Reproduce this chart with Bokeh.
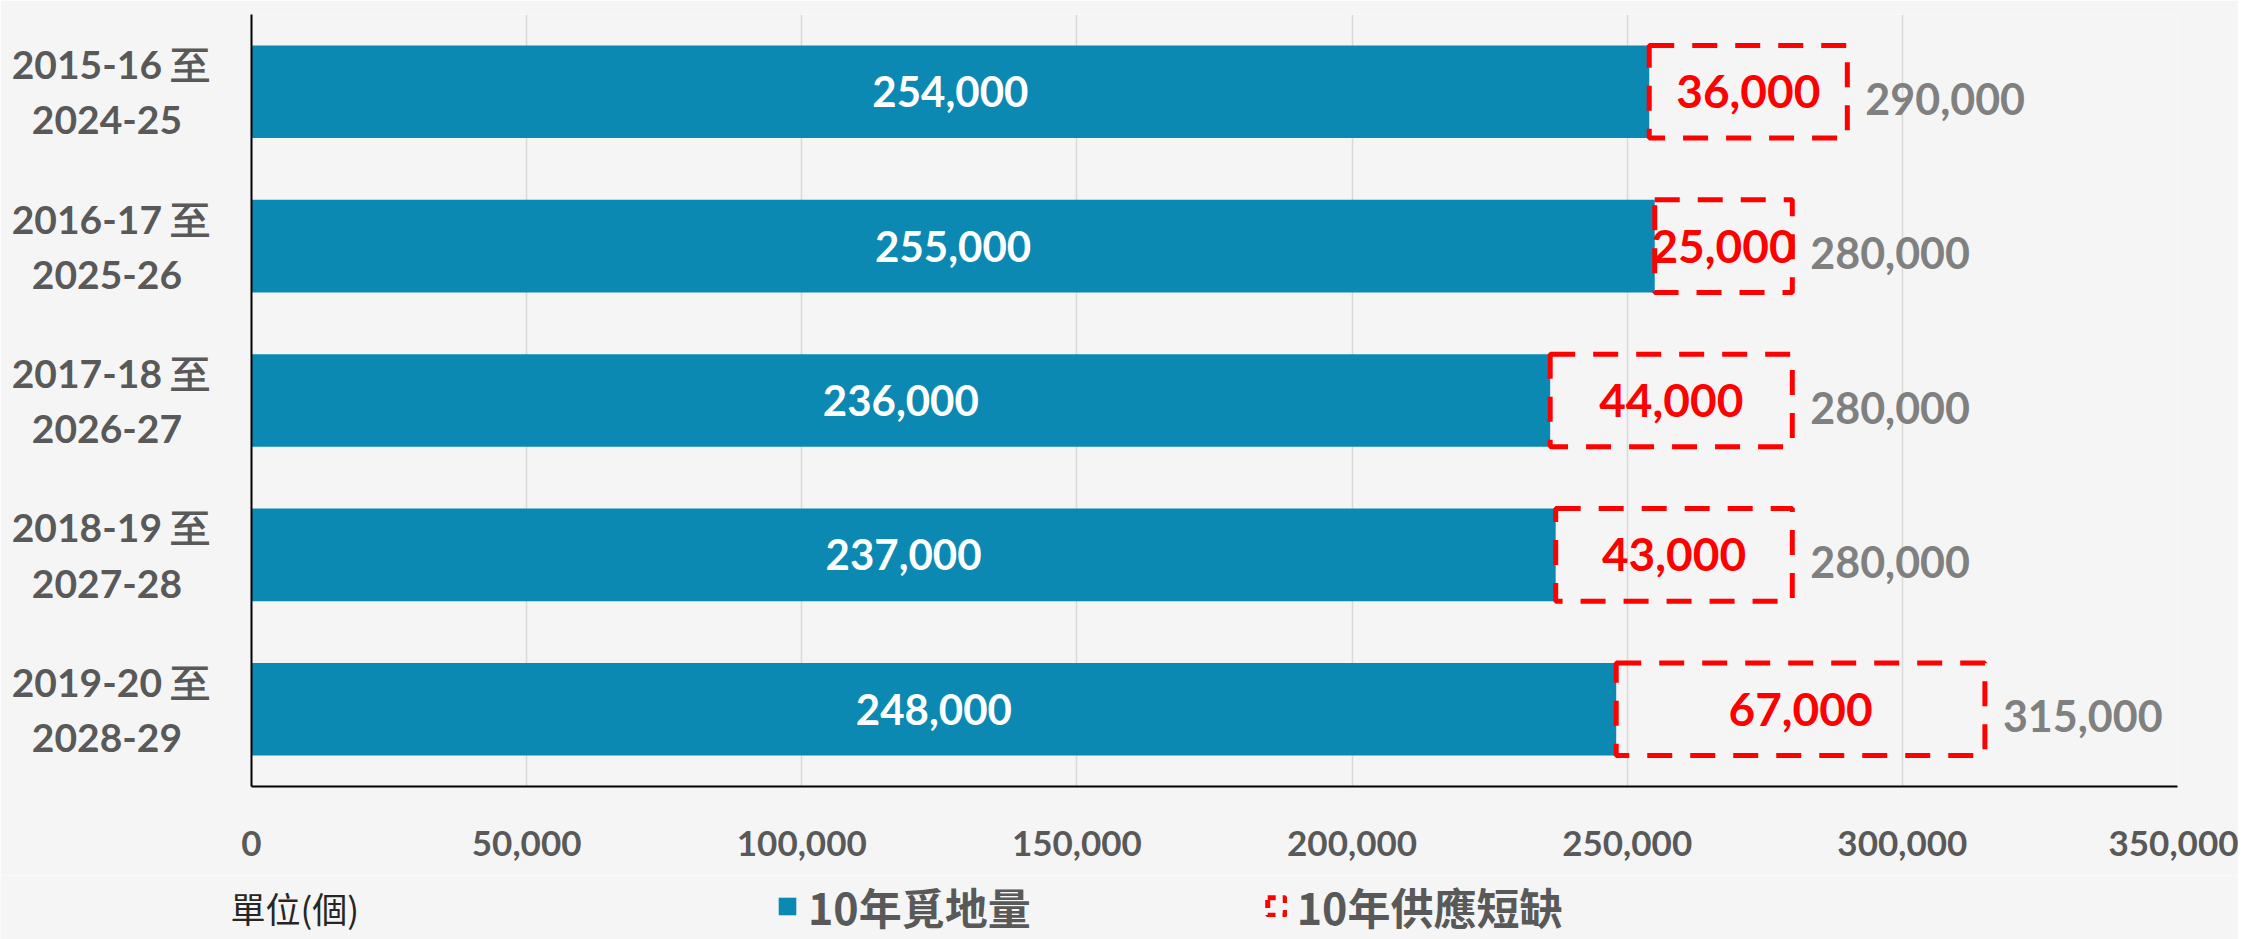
from bokeh.plotting import figure
from bokeh.layouts import column, row
from bokeh.models import (FactorRange, Range1d, ColumnDataSource, Legend, LegendItem,
                          Label, NumeralTickFormatter, FixedTicker)
from bokeh.core.properties import value
from bokeh.embed import file_html
from bokeh.resources import INLINE

# ---- data ----
period_start = ["2015-16", "2016-17", "2017-18", "2018-19", "2019-20"]
period_end = ["2024-25", "2025-26", "2026-27", "2027-28", "2028-29"]
land_supply = [254000, 255000, 236000, 237000, 248000]   # 10年覓地量
shortfall = [36000, 25000, 44000, 43000, 67000]           # 10年供應短缺
demand = [290000, 280000, 280000, 280000, 315000]         # total demand
x_ticks = [0, 50000, 100000, 150000, 200000, 250000, 300000, 350000]
legend_labels = ["10年覓地量", "10年供應短缺"]
unit_label = "單位(個)"

NB = "\u00a0"
periods = [f"{a} 至\n{b}{NB * 3}" for a, b in zip(period_start, period_end)]

src = ColumnDataSource(dict(
    period=periods,
    land=land_supply,
    short=shortfall,
    total=demand,
    land_mid=[v / 2 for v in land_supply],
    short_mid=[a + b / 2 for a, b in zip(land_supply, shortfall)],
    land_txt=[f"{v:,}" for v in land_supply],
    short_txt=[f"{v:,}" for v in shortfall],
    total_txt=[f"{v:,}" for v in demand],
))

BG = "#F5F5F5"
BLUE = "#0B89B2"
RED = "#FF0000"
DARK = "#595959"
DASH = "25 18"

p = figure(width=2238, height=875,
           y_range=FactorRange(factors=periods[::-1]),
           x_range=Range1d(0, 350000),
           output_backend="svg", toolbar_location=None,
           min_border_left=251, min_border_right=61,
           min_border_top=14, min_border_bottom=89)
p.background_fill_color = BG
p.border_fill_color = BG
p.outline_line_color = None

bars = p.hbar(y="period", left=0, right="land", height=0.6, source=src,
              fill_color=BLUE, line_color=None)
boxes = p.hbar(y="period", left="land", right="total", height=0.6, source=src,
               fill_color=None, line_color=RED, line_width=5, line_dash=DASH)

p.text(x="land_mid", y="period", text="land_txt", source=src,
       text_color="white", text_font=value("Lato"), text_font_style="bold",
       text_font_size="42px", text_align="center", text_baseline="middle")
p.text(x="short_mid", y="period", text="short_txt", source=src,
       text_color=RED, text_font=value("Lato"), text_font_style="bold",
       text_font_size="46px", text_align="center", text_baseline="middle")
p.text(x="total", y="period", text="total_txt", source=src, x_offset=18, y_offset=7,
       text_color="#808080", text_font=value("Lato"), text_font_style="bold",
       text_font_size="43px", text_align="left", text_baseline="middle")

# axes
p.xaxis.ticker = FixedTicker(ticks=x_ticks)
p.xaxis.formatter = NumeralTickFormatter(format="0,0")
for ax in (p.xaxis, p.yaxis):
    ax.major_label_text_font = "Lato"
    ax.major_label_text_font_style = "bold"
    ax.major_label_text_color = DARK
    ax.major_tick_line_color = None
    ax.minor_tick_line_color = None
    ax.axis_line_color = "black"
    ax.axis_line_width = 2
p.xaxis.major_label_text_font_size = "35px"
p.xaxis.major_label_standoff = 38
p.yaxis.major_label_text_font_size = "39px"
p.yaxis.major_label_standoff = 35

p.xgrid.grid_line_color = "#D9D9D9"
p.xgrid.grid_line_width = 1.5
p.ygrid.grid_line_color = None

# ---- legend row ----
p2 = figure(width=2238, height=64, x_range=Range1d(0, 1), y_range=Range1d(0, 1),
            output_backend="svg", toolbar_location=None,
            x_axis_location=None, y_axis_location=None,
            min_border=0, min_border_left=0, min_border_right=0,
            min_border_top=0, min_border_bottom=0)
p2.background_fill_color = BG
p2.border_fill_color = BG
p2.outline_line_color = None
p2.grid.visible = False

# hidden proxies that only supply the legend swatches
leg_bar = p2.hbar(y=0, left=0, right="land", height=1, source=src,
                  fill_color=BLUE, line_color=None, visible=False)
leg_box = p2.hbar(y=0, left="land", right="total", height=1, source=src,
                  fill_color=None, line_color=RED, line_width=5, line_dash="8 7",
                  visible=False)

legend = Legend(items=[LegendItem(label=legend_labels[0], renderers=[leg_bar]),
                       LegendItem(label=legend_labels[1], renderers=[leg_box])],
                orientation="horizontal", location=(776, 2),
                label_text_font="Noto Sans CJK TC", label_text_font_style="bold",
                label_text_font_size="43px", label_text_color=DARK,
                glyph_width=22, glyph_height=22, label_standoff=10, spacing=234,
                padding=0, margin=0,
                background_fill_alpha=0, border_line_color=None)
p2.add_layout(legend, "center")

p2.add_layout(Label(x=230, y=32, x_units="screen", y_units="screen", text=unit_label,
                    text_font="Noto Sans CJK TC", text_font_size="35px",
                    text_color="#262626", text_baseline="middle"))

open("out.html", "w").write(file_html(column(p, row(p2), spacing=0), INLINE))
